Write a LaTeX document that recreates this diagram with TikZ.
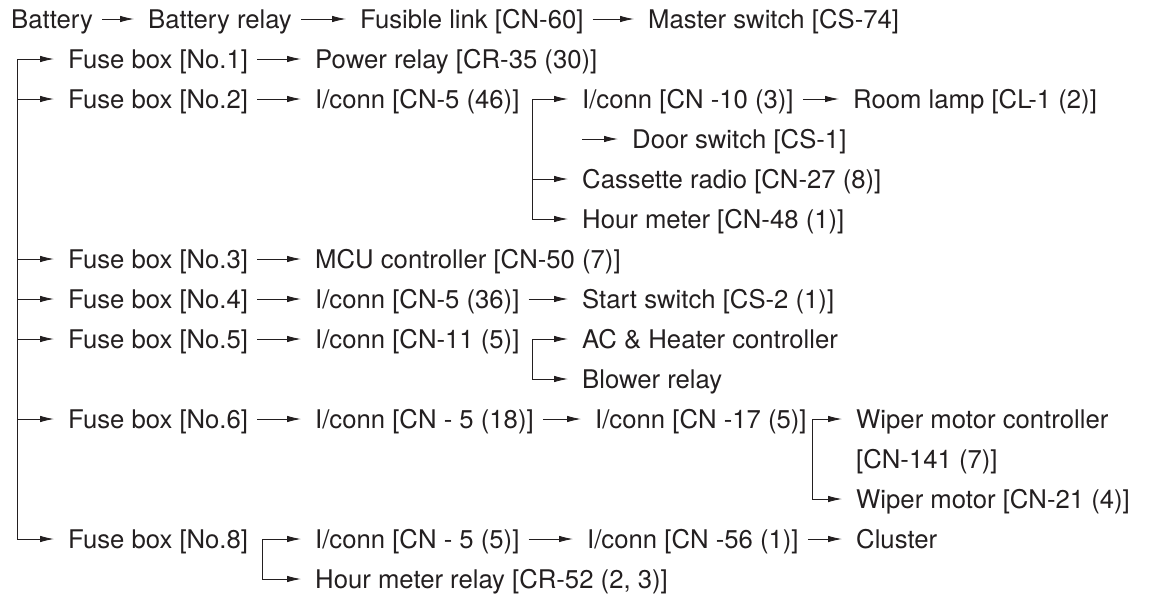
\documentclass[tikz,border=0pt]{standalone}
\usepackage{fontspec}
\setmainfont{TeX Gyre Heros}
\usetikzlibrary{arrows.meta}
\definecolor{ink}{RGB}{35,31,32}
\tikzset{lbl/.style={anchor=west, inner sep=0pt, text height=18.45pt, text depth=0pt,
                     font=\fontsize{25.7}{30}\selectfont, text=ink},
         wire/.style={draw=ink, line width=0.9pt, -{Latex[length=14pt,width=6.5pt]}, shorten >=14pt}}

\begin{document}
\begin{tikzpicture}[x=1pt,y=-1pt]
   \useasboundingbox (0,0) rectangle (1154,595);
   % supply line
   \node[lbl] (bat)  at (11,19)  {Battery};
   \node[lbl] (brel) at (148,19) {Battery relay};
   \node[lbl] (fl)   at (360,19) {Fusible link [CN-60]};
   \node[lbl] (ms)   at (648,19) {Master switch [CS-74]};
   % fuse boxes
   \node[lbl] (fb1) at (68,59)  {Fuse box [No.1]};
   \node[lbl] (fb2) at (68,99)  {Fuse box [No.2]};
   \node[lbl] (fb3) at (68,259) {Fuse box [No.3]};
   \node[lbl] (fb4) at (68,299) {Fuse box [No.4]};
   \node[lbl] (fb5) at (68,339) {Fuse box [No.5]};
   \node[lbl] (fb6) at (68,419) {Fuse box [No.6]};
   \node[lbl] (fb8) at (68,539) {Fuse box [No.8]};
   % loads
   \node[lbl] (pr)   at (315,59)  {Power relay [CR-35 (30)]};
   \node[lbl] (ic46) at (315,99)  {I/conn [CN-5 (46)]};
   \node[lbl] (ic10) at (582,99)  {I/conn [CN -10 (3)]};
   \node[lbl] (rl)   at (853,99)  {Room lamp [CL-1 (2)]};
   \node[lbl] (ds)   at (632,139) {Door switch [CS-1]};
   \node[lbl] (cr)   at (582,179) {Cassette radio [CN-27 (8)]};
   \node[lbl] (hm)   at (582,219) {Hour meter [CN-48 (1)]};
   \node[lbl] (mcu)  at (315,259) {MCU controller [CN-50 (7)]};
   \node[lbl] (ic36) at (315,299) {I/conn [CN-5 (36)]};
   \node[lbl] (ss)   at (582,299) {Start switch [CS-2 (1)]};
   \node[lbl] (ic11) at (315,339) {I/conn [CN-11 (5)]};
   \node[lbl] (ac)   at (582,339) {AC \& Heater controller};
   \node[lbl] (br)   at (582,379) {Blower relay};
   \node[lbl] (ic18) at (315,419) {I/conn [CN - 5 (18)]};
   \node[lbl] (ic17) at (595,419) {I/conn [CN -17 (5)]};
   \node[lbl] (wmc)  at (856,419) {Wiper motor controller};
   \node[lbl] (wmc2) at (856,459) {[CN-141 (7)]};
   \node[lbl] (wm)   at (856,499) {Wiper motor [CN-21 (4)]};
   \node[lbl] (ic5)  at (315,539) {I/conn [CN - 5 (5)]};
   \node[lbl] (ic56) at (587,539) {I/conn [CN -56 (1)]};
   \node[lbl] (cl)   at (856,539) {Cluster};
   \node[lbl] (hmr)  at (315,579) {Hour meter relay [CR-52 (2, 3)]};
   % junctions
   \coordinate (bus) at (17,59);
   \coordinate (j46) at (532,99);
   \coordinate (j11) at (532,339);
   \coordinate (j17) at (812,419);
   \coordinate (j8)  at (262,539);
   % straight runs
   \foreach \a/\b in {bat/brel,brel/fl,fl/ms,fb1/pr,fb2/ic46,ic10/rl,fb3/mcu,fb4/ic36,
                      ic36/ss,fb5/ic11,fb6/ic18,ic18/ic17,ic5/ic56,ic56/cl}
      \draw[wire, shorten <=9pt] (\a.east) -- (\b.west);
   % bus to fuse boxes
   \draw[wire] (bus) -- (fb1.west);
   \foreach \f in {fb2,fb3,fb4,fb5,fb6,fb8}
      \draw[wire] (bus) |- (\f.west);
   % branches
   \draw[wire] (j46) -- (ic10.west);
   \draw[wire] (j46) |- (cr.west);
   \draw[wire] (j46) |- (hm.west);
   \draw[wire] (ic10.west |- ds.west) -- (ds.west);
   \draw[wire] (j11) -- (ac.west);
   \draw[wire] (j11) |- (br.west);
   \draw[wire] (j17) -- (wmc.west);
   \draw[wire] (j17) |- (wm.west);
   \draw[wire] (j8) -- (ic5.west);
   \draw[wire] (j8) |- (hmr.west);
\end{tikzpicture}
\end{document}
